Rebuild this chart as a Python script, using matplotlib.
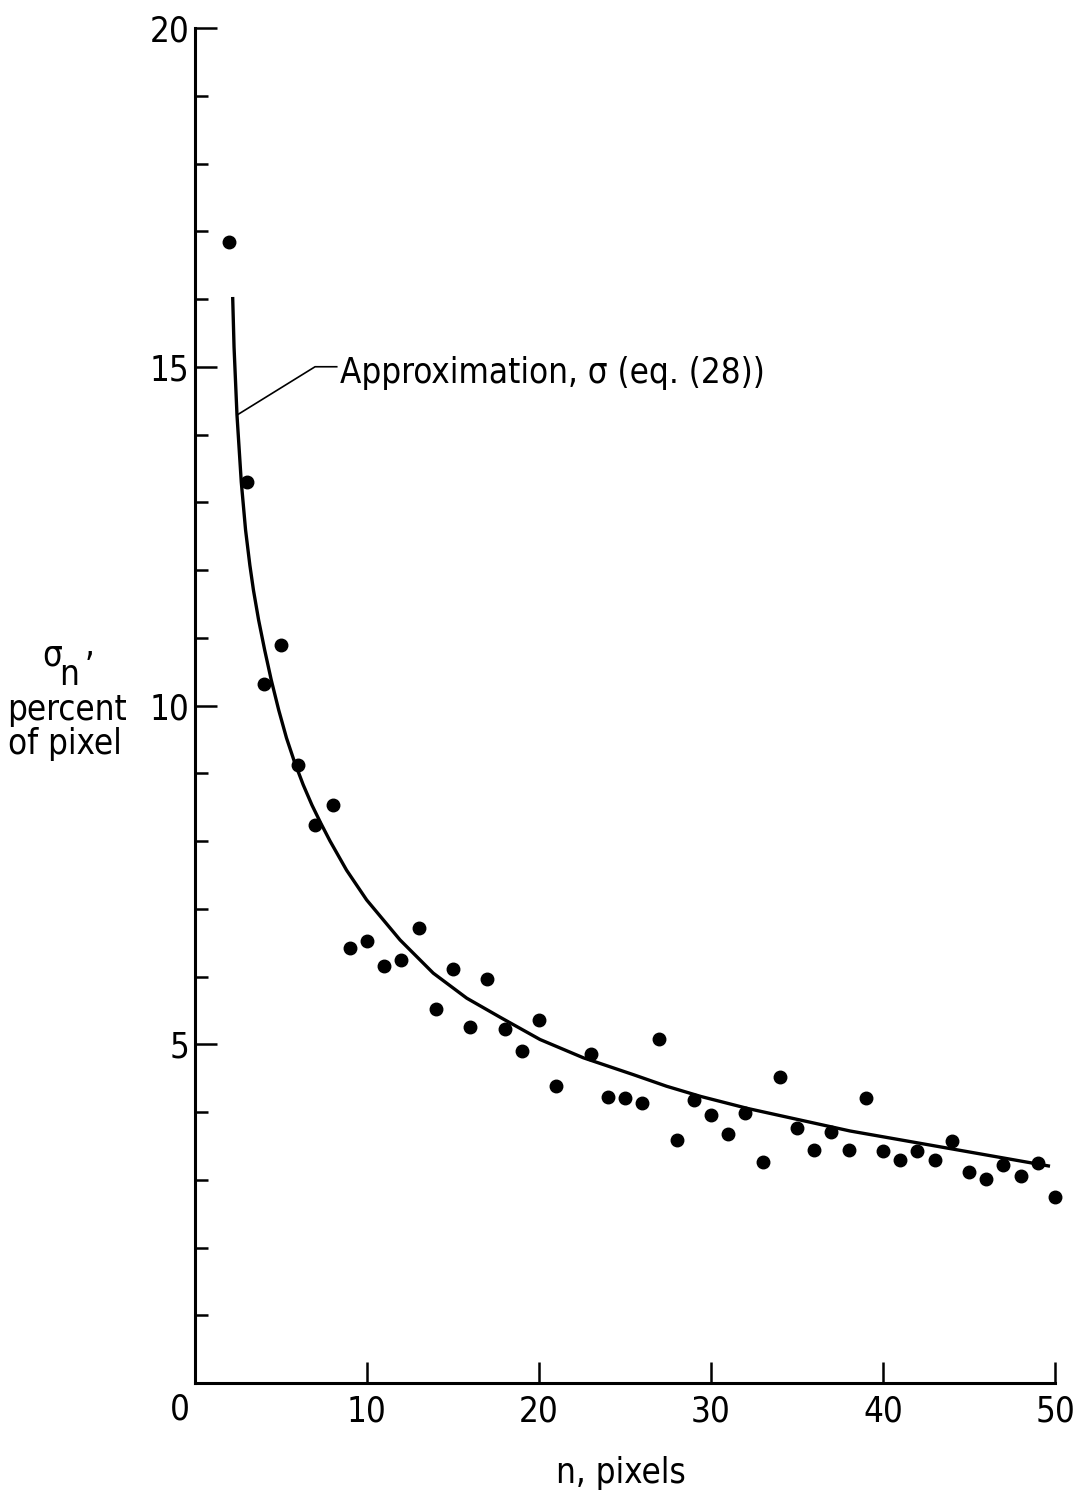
import matplotlib
matplotlib.use('Agg')
import matplotlib.pyplot as plt
from matplotlib import font_manager as fm

# измеренные точки: n (пиксели) и sigma_n (процент пикселя)
n_points = [2, 3, 4, 5, 6, 7, 8, 9, 10, 11, 12, 13, 14, 15, 16, 17, 18, 19, 20, 21,
            23, 24, 25, 26, 27, 28, 29, 30, 31, 32, 33, 34, 35, 36, 37, 38, 39, 40,
            41, 42, 43, 44, 45, 46, 47, 48, 49, 50]
sigma_points = [16.84, 13.30, 10.32, 10.90, 9.12, 8.23, 8.53, 6.42, 6.52, 6.15, 6.25, 6.71,
                5.52, 6.11, 5.25, 5.96, 5.22, 4.90, 5.36, 4.38,
                4.86, 4.22, 4.21, 4.14, 5.08, 3.59, 4.18, 3.96, 3.68, 3.98, 3.26, 4.52,
                3.76, 3.44, 3.70, 3.44, 4.21, 3.42, 3.29, 3.42, 3.29, 3.57, 3.11, 3.01,
                3.22, 3.06, 3.25, 2.75]

# аппроксимация (кривая)
n_curve = [2.19, 2.27, 2.44, 2.69, 2.94, 3.19, 3.40, 3.70, 4.05, 4.43, 4.87, 5.32, 5.78,
           6.29, 6.80, 7.30, 7.85, 8.81, 9.98, 11.92, 13.85, 15.80, 17.73, 20.06, 22.58,
           25.5, 27.42, 29.4, 32.17, 38.08, 43.90, 49.71]
sigma_curve = [16.03, 15.29, 14.29, 13.30, 12.59, 12.07, 11.70, 11.26, 10.82, 10.38, 9.93,
               9.52, 9.17, 8.83, 8.53, 8.27, 8.00, 7.57, 7.13, 6.54, 6.05, 5.68, 5.40, 5.07,
               4.80, 4.55, 4.38, 4.23, 4.05, 3.72, 3.46, 3.20]

x_ticks = [10, 20, 30, 40, 50]
y_ticks = [5, 10, 15, 20]
label_text = 'Approximation, σ (eq. (28))'


def pick_font():
    # ищем узкий шрифт, похожий на оригинал
    for f in fm.fontManager.ttflist:
        if 'LiberationSansNarrow-Regular' in f.fname:
            return fm.FontProperties(fname=f.fname)
    for f in fm.fontManager.ttflist:
        if 'DejaVuSansCondensed.ttf' in f.fname:
            return fm.FontProperties(fname=f.fname)
    for f in fm.fontManager.ttflist:
        if 'Condensed' in f.fname and 'Bold' not in f.fname and 'Oblique' not in f.fname \
                and 'Italic' not in f.fname:
            return fm.FontProperties(fname=f.fname)
    return fm.FontProperties(family='Liberation Sans')


fp = pick_font()
fs = 25

fig = plt.figure(figsize=(10.77, 14.97), dpi=100)
ax = fig.add_axes([195 / 1077, 1 - 1383 / 1497, 860 / 1077, 1355 / 1497])

ax.plot(n_curve, sigma_curve, color='black', lw=2.4, solid_capstyle='butt', solid_joinstyle='round')
ax.plot(n_points, sigma_points, 'o', color='black', ms=9, clip_on=False)

# выноска к подписи кривой
ax.plot([2.46, 6.98, 8.24], [14.29, 15.0, 15.0], color='black', lw=1.2)
ax.text(8.43, 14.76, label_text, fontproperties=fp, fontsize=fs, va='baseline', ha='left')

ax.set_xlim(0, 50)
ax.set_ylim(0, 20)
ax.spines['top'].set_visible(False)
ax.spines['right'].set_visible(False)
ax.spines['left'].set_linewidth(2.2)
ax.spines['bottom'].set_linewidth(2.2)

ax.set_xticks(x_ticks)
ax.set_xticklabels([str(v) for v in x_ticks])
ax.set_yticks(y_ticks)
ax.set_yticklabels([str(v) for v in y_ticks])
ax.set_yticks(range(1, 20), minor=True)
ax.tick_params(axis='x', direction='in', length=15, width=1.8, pad=8)
ax.tick_params(axis='y', which='major', direction='in', length=16, width=1.8, pad=4)
ax.tick_params(axis='y', which='minor', direction='in', length=9, width=1.8)
for lab in ax.get_xticklabels() + ax.get_yticklabels():
    lab.set_fontproperties(fp)
    lab.set_fontsize(fs)

# "0" в углу
fig.text(180 / 1077, 1 - 1409 / 1497, '0', fontproperties=fp, fontsize=fs, ha='center', va='center')

# подпись оси X
fig.text(621 / 1077, 1 - 1483 / 1497, 'n, pixels', fontproperties=fp, fontsize=fs, ha='center', va='baseline')

# подпись оси Y: sigma_n, percent of pixel
fig.text(52 / 1077, 1 - 665 / 1497, 'σ', fontproperties=fp, fontsize=fs, ha='center', va='baseline')
fig.text(69 / 1077, 1 - 685 / 1497, 'n', fontproperties=fp, fontsize=fs, ha='center', va='baseline')
fig.text(90 / 1077, 1 - 656 / 1497, ',', fontproperties=fp, fontsize=fs, ha='center', va='baseline')
fig.text(67 / 1077, 1 - 720 / 1497, 'percent', fontproperties=fp, fontsize=fs, ha='center', va='baseline')
fig.text(65 / 1077, 1 - 754 / 1497, 'of pixel', fontproperties=fp, fontsize=fs, ha='center', va='baseline')

fig.savefig('out.png', dpi=100)
